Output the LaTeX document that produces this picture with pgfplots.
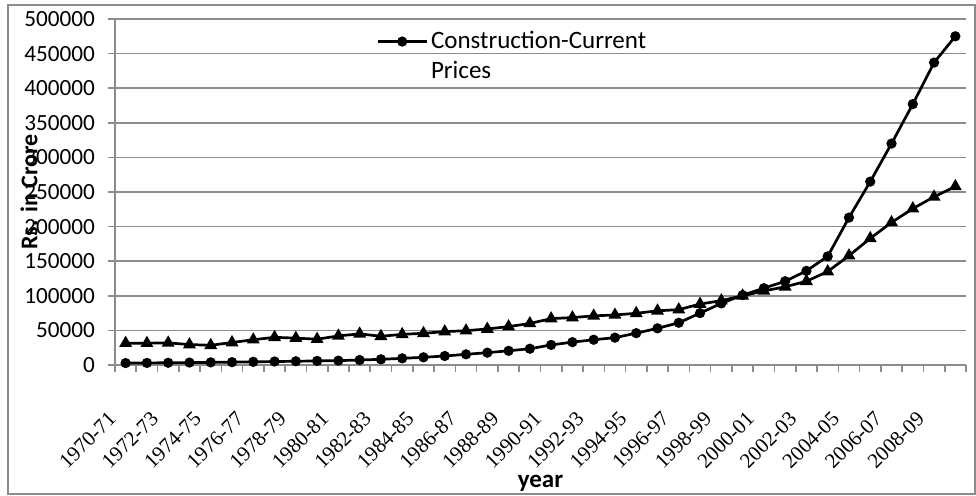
\documentclass[border=0pt]{standalone}
\usepackage{fontspec}
\setmainfont{Carlito}
\newfontfamily\tnr{Liberation Serif}
\usepackage{graphicx}
\usepackage{pgfplots}
\usepackage{pgfplotstable}
\pgfplotsset{compat=1.18}
\definecolor{gridgray}{RGB}{140,140,140}
\pgfplotsset{mylegimg/.style={legend image code/.code={%
  \draw[mark repeat=2,mark phase=2,##1] plot coordinates {(0pt,0pt) (12.25pt,0pt) (24.5pt,0pt)};}}}
\newcommand{\xl}[1]{\rotatebox{45}{\tnr\fontsize{10.5}{12}\selectfont #1}}

\pgfplotstableread{
idx cur con
0 2800 31500
1 3000 31500
2 3200 32000
3 3500 29500
4 3800 28500
5 4100 32500
6 4600 36500
7 5000 40000
8 5400 38800
9 5900 37300
10 6300 42000
11 7200 45000
12 8200 41500
13 9600 44300
14 11100 45800
15 13000 48200
16 15400 49600
17 17800 52000
18 20500 55500
19 23500 60000
20 29000 67000
21 33000 68500
22 36500 71000
23 39500 72300
24 46000 74700
25 53000 78300
26 61000 80000
27 75000 88100
28 89000 93000
29 101000 100000
30 111000 107000
31 121000 113000
32 136000 121000
33 157000 135000
34 213000 158000
35 265000 183000
36 320000 206000
37 377000 226000
38 437000 243000
39 475000 258000
}\datatable

\begin{document}
\begin{tikzpicture}
\path[use as bounding box] (-57.5pt,-65.5pt) rectangle (430.5pt,182.5pt);
\draw[gridgray, line width=0.8pt] (-53.5pt,-64.5pt) rectangle (430pt,180pt);
\begin{axis}[
  at={(0pt,0pt)}, anchor=south west,
  scale only axis, width=425.5pt, height=173pt,
  xmin=-0.5, xmax=39.5, ymin=0, ymax=500000,
  ytick={0,50000,100000,150000,200000,250000,300000,350000,400000,450000,500000},
  yticklabels={0,50000,100000,150000,200000,250000,300000,350000,400000,450000,500000},
  xtick={0,2,...,38},
  xticklabels={\xl{1970-71},\xl{1972-73},\xl{1974-75},\xl{1976-77},\xl{1978-79},\xl{1980-81},\xl{1982-83},\xl{1984-85},\xl{1986-87},\xl{1988-89},\xl{1990-91},\xl{1992-93},\xl{1994-95},\xl{1996-97},\xl{1998-99},\xl{2000-01},\xl{2002-03},\xl{2004-05},\xl{2006-07},\xl{2008-09}},
  minor xtick={-0.5,0.5,...,39.5},
  major x tick style={draw=none},
  axis x line*=bottom, axis y line*=left,
  axis line style={gridgray, line width=0.8pt, -},
  ymajorgrids, grid style={gridgray, line width=0.8pt},
  tick align=outside,
  tick style={gridgray, line width=0.8pt},
  major tick length=3.5pt, minor tick length=3.5pt,
  scaled y ticks=false,
  yticklabel style={font=\fontsize{11.6}{13}\selectfont, xshift=-3pt},
  xticklabel style={anchor=north east, inner sep=0pt, xshift=-4pt, yshift=-19pt},
  xlabel={year},
  every axis x label/.style={at={(axis description cs:0.5,0)}, yshift=-59pt, anchor=center, font=\bfseries\fontsize{12.5}{15}\selectfont},
  ylabel={Rs. in Crore},
  every axis y label/.style={at={(axis description cs:0,0.5)}, xshift=-43pt, rotate=90, anchor=center, font=\bfseries\fontsize{12}{14}\selectfont},
  legend style={draw=none, fill=none, at={(axis description cs:0.2996,0.9855)}, anchor=north west,
    font=\fontsize{12.5}{15}\selectfont, nodes={inner sep=1.5pt}, row sep=2pt},
  legend cell align=left,
]
\addplot[black, line width=1.35pt, mark=*, mark size=1.85pt, mylegimg]
  table[x=idx, y=cur] {\datatable};
\addlegendentry{Construction-Current}
\addlegendimage{empty legend}
\addlegendentry{Prices}
\addplot[black, line width=1.35pt, mark=triangle*, mark size=2.4pt, forget plot]
  table[x=idx, y=con] {\datatable};
\end{axis}
\end{tikzpicture}
\end{document}
